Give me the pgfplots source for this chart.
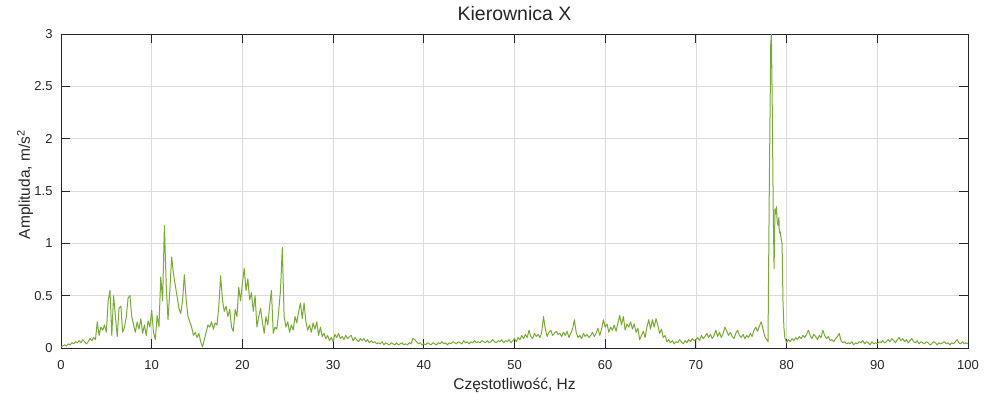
\documentclass[border=0pt]{standalone}
\usepackage{fontspec}
\setmainfont{Liberation Sans}
\usepackage{pgfplots}
\pgfplotsset{compat=1.18}
\definecolor{linegreen}{rgb}{0.466,0.674,0.188}
\definecolor{framegray}{gray}{0.15}

\begin{document}
\begin{tikzpicture}
\useasboundingbox (-61pt,-46pt) rectangle (923pt,348pt);
\begin{axis}[
  at={(0pt,0pt)}, anchor=south west,
  scale only axis, width=907pt, height=314pt,
  xmin=0, xmax=100, ymin=0, ymax=3,
  xtick={0,10,...,100}, ytick={0,0.5,1,1.5,2,2.5,3},
  grid=major,
  major grid style={gray!28, line width=0.7pt},
  axis line style={framegray, line width=0.9pt},
  tick align=inside, xtick pos=both, ytick pos=both,
  major tick length=9pt,
  every tick/.style={framegray, line width=0.9pt},
  /pgf/number format/assume math mode=true,
  tick label style={font=\fontsize{13}{13}\selectfont, text=framegray, inner sep=0pt},
  xticklabel style={anchor=base, yshift=-21.3pt},
  yticklabel style={anchor=east, xshift=-8.3pt},
  title={Kierownica X},
  title style={font=\fontsize{19.5}{20}\selectfont, text=framegray, inner sep=0pt,
    at={(axis description cs:0.5,1.0232)}, anchor=base},
  xlabel={Częstotliwość, Hz},
  xlabel style={font=\fontsize{15.5}{16}\selectfont, text=framegray, inner sep=0pt,
    at={(axis description cs:0.5,-0.1315)}, anchor=base},
  ylabel={Amplituda, m/s\textsuperscript{2}},
  ylabel style={font=\fontsize{15.5}{16}\selectfont, text=framegray, inner sep=0pt,
    at={(axis description cs:-0.0397,0.52)}, anchor=center, rotate=0},
]
\addplot[linegreen, line width=1pt, line join=round] coordinates {
(0,0.01)(0.2,0.02)(0.4,0.03)(0.6,0.02)(0.8,0.04)
(1,0.03)(1.2,0.05)(1.4,0.04)(1.6,0.06)(1.8,0.05)
(2,0.07)(2.2,0.05)(2.4,0.08)(2.6,0.06)(2.8,0.04)
(3,0.06)(3.2,0.09)(3.4,0.07)(3.6,0.10)(3.8,0.08)
(4,0.25)(4.2,0.12)(4.4,0.20)(4.6,0.17)(4.8,0.22)
(5,0.15)(5.2,0.45)(5.4,0.55)(5.6,0.12)(5.8,0.50)
(6,0.30)(6.2,0.11)(6.4,0.38)(6.6,0.40)(6.8,0.15)
(7,0.20)(7.2,0.30)(7.4,0.48)(7.6,0.50)(7.8,0.30)
(8,0.22)(8.2,0.15)(8.4,0.25)(8.6,0.18)(8.8,0.28)
(9,0.14)(9.2,0.22)(9.4,0.12)(9.6,0.26)(9.8,0.20)
(10,0.36)(10.2,0.15)(10.4,0.08)(10.6,0.31)(10.8,0.20)
(11,0.68)(11.2,0.45)(11.4,1.17)(11.6,0.60)(11.8,0.27)
(12,0.55)(12.2,0.87)(12.4,0.71)(12.6,0.60)(12.8,0.49)
(13,0.38)(13.2,0.33)(13.4,0.45)(13.6,0.70)(13.8,0.46)
(14,0.30)(14.2,0.25)(14.4,0.20)(14.6,0.12)(14.8,0.15)
(15,0.10)(15.2,0.14)(15.4,0.06)(15.6,0.01)(15.8,0.08)
(16,0.15)(16.2,0.22)(16.4,0.20)(16.6,0.25)(16.8,0.18)
(17,0.24)(17.2,0.22)(17.4,0.40)(17.6,0.69)(17.8,0.46)
(18,0.35)(18.2,0.40)(18.4,0.30)(18.6,0.37)(18.8,0.20)
(19,0.16)(19.2,0.37)(19.4,0.30)(19.6,0.58)(19.8,0.45)
(20,0.62)(20.2,0.76)(20.4,0.55)(20.6,0.66)(20.8,0.46)
(21,0.53)(21.2,0.35)(21.4,0.50)(21.6,0.20)(21.8,0.30)
(22,0.38)(22.2,0.25)(22.4,0.14)(22.6,0.30)(22.8,0.22)
(23,0.40)(23.2,0.55)(23.4,0.14)(23.6,0.20)(23.8,0.18)
(24,0.35)(24.2,0.55)(24.4,0.96)(24.6,0.30)(24.8,0.20)
(25,0.25)(25.2,0.15)(25.4,0.22)(25.6,0.17)(25.8,0.30)
(26,0.24)(26.2,0.35)(26.4,0.43)(26.6,0.28)(26.8,0.43)
(27,0.25)(27.2,0.17)(27.4,0.22)(27.6,0.15)(27.8,0.24)
(28,0.18)(28.2,0.25)(28.4,0.12)(28.6,0.20)(28.8,0.11)
(29,0.14)(29.2,0.09)(29.4,0.12)(29.6,0.07)(29.8,0.10)
(30,0.06)(30.2,0.13)(30.4,0.10)(30.6,0.14)(30.8,0.09)
(31,0.11)(31.2,0.08)(31.4,0.12)(31.6,0.09)(31.8,0.11)
(32,0.12)(32.2,0.07)(32.4,0.10)(32.6,0.08)(32.8,0.06)
(33,0.09)(33.2,0.07)(33.4,0.09)(33.6,0.06)(33.8,0.08)
(34,0.05)(34.2,0.07)(34.4,0.05)(34.6,0.06)(34.8,0.04)
(35,0.05)(35.2,0.04)(35.4,0.06)(35.6,0.03)(35.8,0.05)
(36,0.04)(36.2,0.03)(36.4,0.05)(36.6,0.04)(36.8,0.03)
(37,0.05)(37.2,0.03)(37.4,0.04)(37.6,0.05)(37.8,0.03)
(38,0.04)(38.2,0.03)(38.4,0.05)(38.6,0.04)(38.8,0.09)
(39,0.08)(39.2,0.06)(39.4,0.04)(39.6,0.05)(39.8,0.03)
(40,0.04)(40.2,0.03)(40.4,0.05)(40.6,0.04)(40.8,0.03)
(41,0.05)(41.2,0.04)(41.4,0.03)(41.6,0.05)(41.8,0.04)
(42,0.06)(42.2,0.04)(42.4,0.05)(42.6,0.03)(42.8,0.05)
(43,0.04)(43.2,0.06)(43.4,0.05)(43.6,0.04)(43.8,0.06)
(44,0.05)(44.2,0.04)(44.4,0.07)(44.6,0.05)(44.8,0.06)
(45,0.04)(45.2,0.06)(45.4,0.05)(45.6,0.07)(45.8,0.05)
(46,0.06)(46.2,0.05)(46.4,0.07)(46.6,0.06)(46.8,0.05)
(47,0.07)(47.2,0.05)(47.4,0.06)(47.6,0.08)(47.8,0.06)
(48,0.05)(48.2,0.07)(48.4,0.06)(48.6,0.08)(48.8,0.05)
(49,0.07)(49.2,0.06)(49.4,0.08)(49.6,0.05)(49.8,0.07)
(50,0.09)(50.2,0.06)(50.4,0.10)(50.6,0.08)(50.8,0.12)
(51,0.09)(51.2,0.13)(51.4,0.10)(51.6,0.17)(51.8,0.11)
(52,0.09)(52.2,0.14)(52.4,0.11)(52.6,0.13)(52.8,0.10)
(53,0.15)(53.2,0.30)(53.4,0.18)(53.6,0.11)(53.8,0.15)
(54,0.17)(54.2,0.12)(54.4,0.14)(54.6,0.16)(54.8,0.13)
(55,0.14)(55.2,0.11)(55.4,0.15)(55.6,0.12)(55.8,0.16)
(56,0.10)(56.2,0.14)(56.4,0.18)(56.6,0.27)(56.8,0.15)
(57,0.10)(57.2,0.12)(57.4,0.09)(57.6,0.14)(57.8,0.11)
(58,0.13)(58.2,0.10)(58.4,0.12)(58.6,0.15)(58.8,0.11)
(59,0.14)(59.2,0.19)(59.4,0.12)(59.6,0.18)(59.8,0.27)
(60,0.20)(60.2,0.23)(60.4,0.15)(60.6,0.20)(60.8,0.17)
(61,0.22)(61.2,0.16)(61.4,0.24)(61.6,0.31)(61.8,0.22)
(62,0.30)(62.2,0.17)(62.4,0.23)(62.6,0.20)(62.8,0.25)
(63,0.18)(63.2,0.23)(63.4,0.15)(63.6,0.19)(63.8,0.08)
(64,0.12)(64.2,0.16)(64.4,0.10)(64.6,0.20)(64.8,0.27)
(65,0.18)(65.2,0.27)(65.4,0.20)(65.6,0.28)(65.8,0.22)
(66,0.14)(66.2,0.18)(66.4,0.10)(66.6,0.12)(66.8,0.06)
(67,0.08)(67.2,0.05)(67.4,0.07)(67.6,0.04)(67.8,0.06)
(68,0.05)(68.2,0.08)(68.4,0.06)(68.6,0.04)(68.8,0.07)
(69,0.05)(69.2,0.08)(69.4,0.06)(69.6,0.09)(69.8,0.07)
(70,0.08)(70.2,0.10)(70.4,0.07)(70.6,0.12)(70.8,0.09)
(71,0.11)(71.2,0.14)(71.4,0.10)(71.6,0.13)(71.8,0.09)
(72,0.12)(72.2,0.17)(72.4,0.11)(72.6,0.15)(72.8,0.10)
(73,0.14)(73.2,0.20)(73.4,0.16)(73.6,0.12)(73.8,0.15)
(74,0.11)(74.2,0.09)(74.4,0.14)(74.6,0.17)(74.8,0.12)
(75,0.10)(75.2,0.13)(75.4,0.09)(75.6,0.12)(75.8,0.10)
(76,0.14)(76.2,0.11)(76.4,0.17)(76.6,0.20)(76.8,0.16)
(77,0.21)(77.2,0.25)(77.4,0.18)(77.6,0.11)(77.8,0.08)
(77.95,0.06)(78.1,1.6)(78.25,2.9)(78.32,3.0)(78.42,2.3)
(78.52,1.36)(78.62,0.76)(78.72,1.33)(78.8,1.28)(78.88,1.35)
(78.95,1.22)(79.05,1.17)(79.15,1.25)(79.2,1.10)(79.3,1.11)
(79.4,1.04)(79.5,1.00)(79.6,0.45)(79.7,0.20)(79.8,0.10)
(80,0.05)(80.2,0.08)(80.4,0.06)(80.6,0.09)(80.8,0.07)
(81,0.10)(81.2,0.08)(81.4,0.11)(81.6,0.09)(81.8,0.12)
(82,0.10)(82.2,0.13)(82.4,0.17)(82.6,0.12)(82.8,0.09)
(83,0.13)(83.2,0.11)(83.4,0.08)(83.6,0.12)(83.8,0.10)
(84,0.17)(84.2,0.12)(84.4,0.09)(84.6,0.11)(84.8,0.07)
(85,0.08)(85.2,0.06)(85.4,0.09)(85.6,0.11)(85.8,0.14)
(86,0.07)(86.2,0.05)(86.4,0.06)(86.6,0.04)(86.8,0.05)
(87,0.04)(87.2,0.06)(87.4,0.03)(87.6,0.05)(87.8,0.04)
(88,0.06)(88.2,0.05)(88.4,0.07)(88.6,0.04)(88.8,0.06)
(89,0.05)(89.2,0.03)(89.4,0.06)(89.6,0.04)(89.8,0.05)
(90,0.04)(90.2,0.06)(90.4,0.05)(90.6,0.07)(90.8,0.05)
(91,0.06)(91.2,0.08)(91.4,0.06)(91.6,0.09)(91.8,0.07)
(92,0.05)(92.2,0.08)(92.4,0.10)(92.6,0.07)(92.8,0.09)
(93,0.06)(93.2,0.08)(93.4,0.05)(93.6,0.07)(93.8,0.09)
(94,0.06)(94.2,0.05)(94.4,0.07)(94.6,0.04)(94.8,0.06)
(95,0.05)(95.2,0.04)(95.4,0.06)(95.6,0.05)(95.8,0.03)
(96,0.04)(96.2,0.06)(96.4,0.05)(96.6,0.03)(96.8,0.05)
(97,0.04)(97.2,0.05)(97.4,0.06)(97.6,0.04)(97.8,0.05)
(98,0.03)(98.2,0.05)(98.4,0.04)(98.6,0.06)(98.8,0.08)
(99,0.05)(99.2,0.04)(99.4,0.06)(99.6,0.04)(99.8,0.05)
(100,0.04)
};
\end{axis}
\end{tikzpicture}
\end{document}
